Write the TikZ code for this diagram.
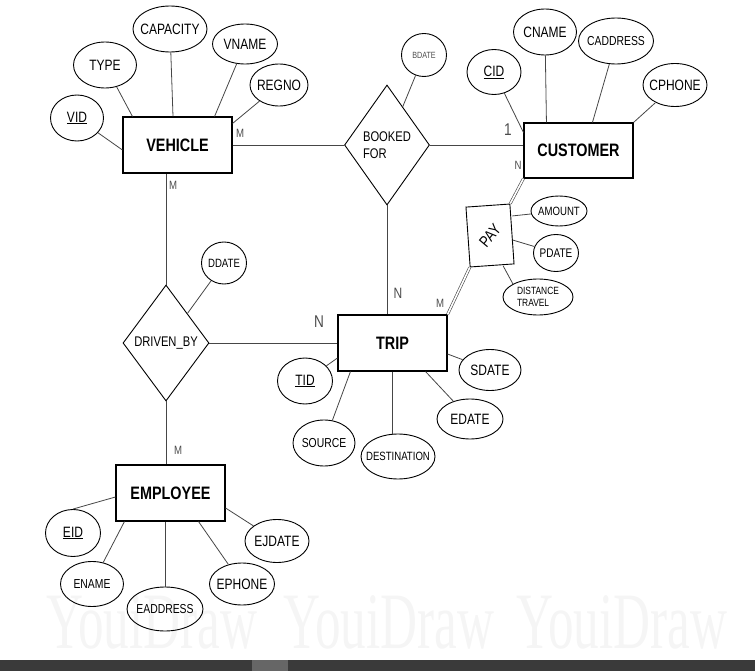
\documentclass[tikz,border=0pt]{standalone}
\usepackage{graphicx}
\usepackage{fontspec}
\setmainfont[FakeStretch=0.8]{Liberation Sans}
\newfontfamily\markfont[FakeStretch=0.64]{Liberation Serif}
\usepackage{tikz}
\usetikzlibrary{shapes.geometric}
\usepackage{xcolor}
\definecolor{ERLine}{RGB}{70,70,70}
\definecolor{ERMark}{RGB}{245,245,245}
\definecolor{ERBar}{RGB}{58,58,58}
\newcommand{\fsz}[2]{\fontsize{#1}{#2}\selectfont}

\begin{document}
\begin{tikzpicture}[x=1pt,y=-1pt,
entity/.style={rectangle,draw,line width=1.1pt,minimum width=109pt,minimum height=56pt,
font=\bfseries\fsz{18}{20}},
attr/.style={ellipse,draw,line width=0.9pt,inner xsep=-6pt,inner ysep=0pt,font=\fsz{15}{17}},
rel/.style={diamond,draw,line width=0.9pt,inner sep=1pt,font=\fsz{14}{17}},
link/.style={draw=ERLine,line width=0.8pt},
dbl/.style={draw=ERLine,double,double distance=1.6pt,line width=0.6pt},
card/.style={text=black!70,font=\fsz{12}{14},inner sep=0pt}
]
\useasboundingbox (0,0) rectangle (755,671);
\foreach \wx in {152,389,622}
  \node[text=ERMark,font=\markfont\fsz{80}{80},inner sep=0pt] at (\wx,622) {YouiDraw};

\node[entity] (veh) at (177.5,145) {VEHICLE};
\node[entity,minimum height=55pt] (cust) at (578.5,150.5) {CUSTOMER};
\node[entity] (trip) at (392.5,343) {TRIP};
\node[entity] (emp) at (170.5,493) {EMPLOYEE};

\node[rel,minimum width=85pt,minimum height=120pt,align=left] (book) at (387,145) {BOOKED\\FOR};
\node[rel,minimum width=86pt,minimum height=116pt] (drive) at (166,343) {DRIVEN\_BY};
\node[rectangle,draw,line width=0.9pt,minimum width=44pt,minimum height=60pt,rotate=4,
font=\fsz{16}{18}] (pay) at (490,235.5) {\rotatebox{46}{PAY}};

\node[attr,minimum width=53pt,minimum height=46pt] (vid) at (77,118) {\underline{VID}};
\node[attr,minimum width=63pt,minimum height=46pt] (type) at (105,65) {TYPE};
\node[attr,minimum width=74pt,minimum height=46pt] (capac) at (170,29) {CAPACITY};
\node[attr,minimum width=65pt,minimum height=40pt] (vname) at (245,44) {VNAME};
\node[attr,minimum width=58pt,minimum height=42pt] (regno) at (279,85) {REGNO};

\node[attr,minimum width=54pt,minimum height=45pt] (cid) at (494,72) {\underline{CID}};
\node[attr,minimum width=63pt,minimum height=46pt] (cname) at (545,32) {CNAME};
\node[attr,minimum width=75pt,minimum height=46pt,font=\fsz{13}{15}] (caddr) at (616,41) {CADDRESS};
\node[attr,minimum width=64pt,minimum height=43pt] (cphone) at (675,85) {CPHONE};
\node[attr,minimum width=45pt,minimum height=43pt,font=\fsz{9}{10},text=black!70] (bdate) at (424,55) {BDATE};

\node[attr,minimum width=56pt,minimum height=30pt,font=\fsz{12}{14}] (amount) at (559,211) {AMOUNT};
\node[attr,minimum width=45pt,minimum height=37pt,font=\fsz{12.5}{14}] (pdate) at (556,253) {PDATE};
\node[attr,minimum width=70pt,minimum height=36pt,font=\fsz{10.5}{12},align=left] (dist) at (538,297) {DISTANCE\\TRAVEL};

\node[attr,minimum width=55pt,minimum height=46pt] (tid) at (305,381) {\underline{TID}};
\node[attr,minimum width=62pt,minimum height=46pt,font=\fsz{13}{15}] (src) at (324,443) {SOURCE};
\node[attr,minimum width=74pt,minimum height=45pt,font=\fsz{12}{14}] (dest) at (398,456.5) {DESTINATION};
\node[attr,minimum width=62pt,minimum height=41pt] (sdate) at (490,370) {SDATE};
\node[attr,minimum width=66pt,minimum height=40pt] (edate) at (470,419) {EDATE};
\node[attr,minimum width=45pt,minimum height=42pt,font=\fsz{12}{14}] (ddate) at (224,263) {DDATE};

\node[attr,minimum width=55pt,minimum height=47pt] (eid) at (73,533) {\underline{EID}};
\node[attr,minimum width=63pt,minimum height=45pt,font=\fsz{13}{15}] (ename) at (92,584) {ENAME};
\node[attr,minimum width=76pt,minimum height=44pt,font=\fsz{13}{15}] (eaddr) at (165,609) {EADDRESS};
\node[attr,minimum width=65pt,minimum height=42pt] (ephone) at (242,584) {EPHONE};
\node[attr,minimum width=64pt,minimum height=43pt] (ejdate) at (277,541) {EJDATE};

\draw[link] (vid) -- ([yshift=-5pt]veh.west);
\draw[link] (type) -- ([xshift=10pt]veh.north west);
\draw[link] (capac) -- ([xshift=-4.5pt]veh.north);
\draw[link] (vname) -- ([xshift=-18pt]veh.north east);
\draw[link] (regno) -- ([yshift=-7pt]veh.north east);
\draw[link] (veh.east) -- (book.west);
\draw[link] (drive.north) -- (drive.north |- veh.south);

\draw[link] (bdate) -- (book);
\draw[link] (book.east) -- (book.east -| cust.west);
\draw[link] (book.south) -- (book.south |- trip.north);

\draw[link] (cid) -- ([yshift=-10pt]cust.north west);
\draw[link] (cname) -- ([xshift=23pt]cust.north west);
\draw[link] (caddr) -- ([xshift=69pt]cust.north west);
\draw[link] (cphone) -- (cust.north east);
\draw[dbl] (cust.south west) -- (pay.north east);

\draw[link] (amount) -- ([yshift=18pt]pay.east);
\draw[link] (pdate) -- ([yshift=-6pt]pay.east);
\draw[link] (dist.north west) -- ([xshift=11pt]pay.south);
\draw[dbl] (pay.south west) -- (trip.north east);

\draw[link] (tid) -- ([yshift=-15pt]trip.west);
\draw[link] (src) -- ([xshift=13pt]trip.south west);
\draw[link] (trip.south) -- (trip.south |- dest.north);
\draw[link] (edate) -- ([xshift=-22pt]trip.south east);
\draw[link] (sdate) -- ([yshift=-11pt]trip.east);

\draw[link] (ddate) -- (drive);
\draw[link] (drive.east) -- (trip.west);
\draw[link] (drive.south) -- (drive.south |- emp.north);

\draw[link] (eid.north) -- ([yshift=-4pt]emp.west);
\draw[link] (ename) -- ([xshift=9pt]emp.south west);
\draw[link] (eaddr) -- (eaddr |- emp.south);
\draw[link] (ephone) -- ([xshift=-27pt]emp.south east);
\draw[link] (ejdate) -- ([yshift=-15pt]emp.east);

\node[card] (m1) at (240,133) {M};
\node[card] (m2) at (173,185) {M};
\node[card,font=\fsz{17}{19}] (c1) at (508,130) {1};
\node[card] (n1) at (518,165) {N};
\node[card,font=\fsz{15}{17}] (n2) at (398,293) {N};
\node[card] (m3) at (440,303) {M};
\node[card,font=\fsz{17}{19}] (n3) at (319,322) {N};
\node[card] (m4) at (178,450) {M};

\fill[ERBar] (0,660) rectangle (755,671);
\fill[black!60] (252,660) rectangle (288,671);
\end{tikzpicture}
\end{document}
